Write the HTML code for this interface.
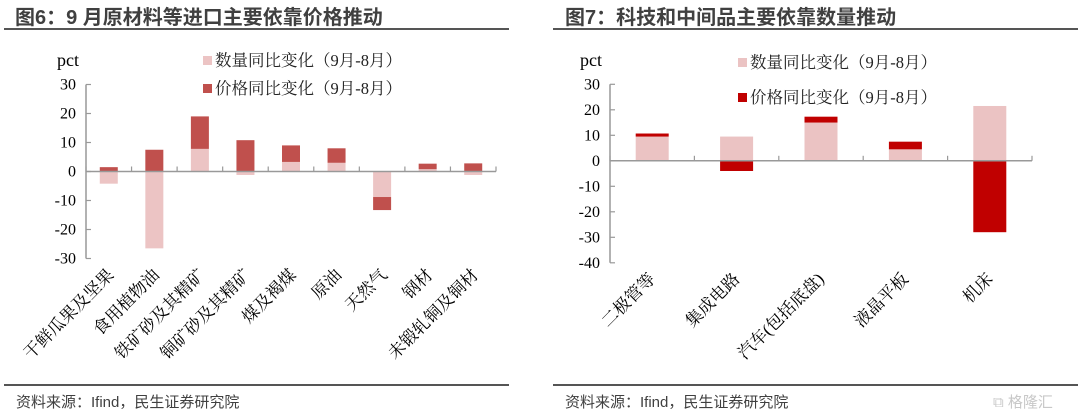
<!DOCTYPE html>
<html><head><meta charset="utf-8"><style>
body{margin:0;background:#fff}
svg{display:block}
.t{font-family:"Liberation Sans","Noto Sans CJK SC",sans-serif;font-weight:bold;font-size:20px;fill:#404040}
.tk{font-family:"Liberation Serif","Noto Serif CJK SC",serif;font-size:16px;fill:#000}
.lg{font-family:"Liberation Serif","Noto Serif CJK SC",serif;font-size:16.5px;fill:#222}
.cat{font-family:"Liberation Serif","Noto Serif CJK SC",serif;font-size:17px;fill:#000}
.ft{font-family:"Liberation Sans","Noto Sans CJK SC",sans-serif;font-size:15px;fill:#404040}
</style></head><body>
<svg id="s" width="1080" height="417" xmlns="http://www.w3.org/2000/svg">
<text class="t" x="15" y="24">图6：9 月原材料等进口主要依靠价格推动</text>
<rect x="4" y="28" width="505" height="2" fill="#555"/>
<text class="t" x="565" y="24">图7：科技和中间品主要依靠数量推动</text>
<rect x="553" y="28" width="525" height="2" fill="#555"/>
<rect x="4" y="384" width="505" height="2" fill="#555"/>
<rect x="553" y="384" width="525" height="2" fill="#555"/>
<text class="ft" x="16" y="407">资料来源：Ifind，民生证券研究院</text>
<text class="ft" x="565" y="407">资料来源：Ifind，民生证券研究院</text>
<text class="ft" x="993" y="407" style="fill:#c8c8c8">⧉ 格隆汇</text>
<g id="L"></g><g id="R"></g>
</svg>
<script>
const leftCats=["干鲜瓜果及坚果","食用植物油","铁矿砂及其精矿","铜矿砂及其精矿","煤及褐煤","原油","天然气","钢材","未锻轧铜及铜材"];
const leftQty=[-4.2,-26.5,7.8,-1.2,3.3,3,-8.8,0.8,-1.2];
const leftPrice=[1.5,7.5,11.2,10.8,5.7,5,-4.5,1.9,2.8];
const leftTicks=[30,20,10,0,-10,-20,-30];
const rightCats=["二极管等","集成电路","汽车(包括底盘)","液晶平板","机床"];
const rightQty=[9.5,9.5,15,4.5,21.5];
const rightPrice=[1.2,-4,2.3,3,-28];
const rightTicks=[30,20,10,0,-10,-20,-30,-40];
const NS="http://www.w3.org/2000/svg";
function mk(p,tag,at){const e=document.createElementNS(NS,tag);for(const k in at)e.setAttribute(k,at[k]);p.appendChild(e);return e;}
function chart(g,o){
  const y=v=>o.y0+(o.max-v)*o.ppu;
  const cw=(o.x1-o.x0)/o.cats.length;
  const x=i=>o.x0+cw*(i+0.5);
  let a=mk(g,'line',{x1:o.x0,x2:o.x0,y1:y(o.max),y2:y(o.min),stroke:'#999','stroke-width':1.5});
  
  o.ticks.forEach(t=>{
    let l=mk(g,'line',{x1:o.x0,x2:o.x0+5,y1:y(t),y2:y(t),stroke:'#999','stroke-width':1.2});
    
    let tx=mk(g,'text',{class:'tk',x:o.x0-10,y:y(t)+5,'text-anchor':'end'});tx.textContent=t;
    
  });
  let p=mk(g,'text',{class:'tk',x:o.pctX,y:o.pctY,style:'font-size:18px'});p.textContent='pct';
  
  o.cats.forEach((c,i)=>{
    const q=o.qty[i],pr=o.price[i];
    const qTop=Math.max(0,q),qBot=Math.min(0,q);
    let pTop,pBot;
    if(pr>=0){const base=q>0?q:0;pBot=base;pTop=base+pr;}else{const base=q<0?q:0;pTop=base;pBot=base+pr;}
    let qb=mk(g,'rect',{x:x(i)-o.bw/2,width:o.bw,y:y(qTop),height:y(qBot)-y(qTop),fill:o.c1});
    
    let pb=mk(g,'rect',{x:x(i)-o.bw/2,width:o.bw,y:y(pTop),height:y(pBot)-y(pTop),fill:o.c2});
    
    let tx=mk(g,'text',{class:'cat','text-anchor':'end',transform:`translate(${x(i)+o.lx},${o.ly}) rotate(-45)`});tx.textContent=c;
    
  });
  let xa=mk(g,'line',{x1:o.x0,x2:o.x1,y1:y(0),y2:y(0),stroke:'#999','stroke-width':1.5});
  
  for(let i=0;i<=o.cats.length;i++){
    let l=mk(g,'line',{x1:o.x0+cw*i,x2:o.x0+cw*i,y1:y(0)-5,y2:y(0),stroke:'#999','stroke-width':1.2});
    
  }
  [[o.c1,'数量同比变化（9月-8月）',o.lg1],[o.c2,'价格同比变化（9月-8月）',o.lg2]].forEach(([c,t,ly])=>{
    let r=mk(g,'rect',{x:o.lgx,y:ly-10,width:9,height:9,fill:c});
    
    let tx=mk(g,'text',{class:'lg',x:o.lgx+12,y:ly});tx.textContent=t;
    
  });
}
chart(document.getElementById('L'),{cats:leftCats,qty:leftQty,price:leftPrice,ticks:leftTicks,max:30,min:-30,
 y0:84.5,ppu:2.9,x0:86,x1:496,bw:18,c1:'#ecc4c4',c2:'#c0504d',pctX:57,pctY:66,lx:6,ly:276,lgx:203,lg1:66,lg2:94});
chart(document.getElementById('R'),{cats:rightCats,qty:rightQty,price:rightPrice,ticks:rightTicks,max:30,min:-40,
 y0:84.3,ppu:2.55,x0:610,x1:1032,bw:33,c1:'#ebc3c3',c2:'#c00000',pctX:580,pctY:66,lx:4,ly:280,lgx:738,lg1:68,lg2:103});
</script>
</body></html>
